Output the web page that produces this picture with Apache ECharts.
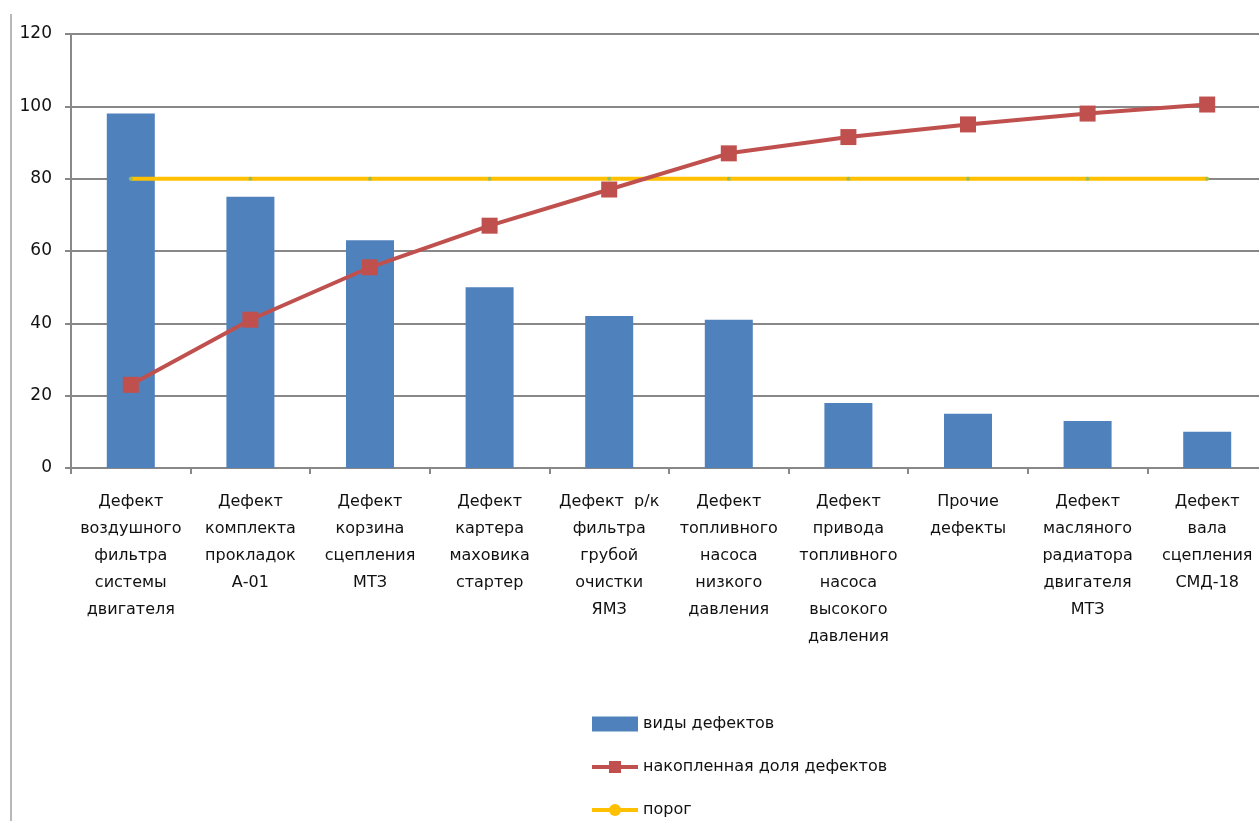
<!DOCTYPE html>
<html>
<head>
<meta charset="utf-8">
<script src="https://cdn.jsdelivr.net/npm/echarts@6/dist/echarts.min.js"></script>
<style>
  html, body { margin: 0; padding: 0; background: #fff; overflow: hidden; }
  #chart { width: 1268px; height: 821px; }
  #frame { position: absolute; left: 10px; top: 14px; width: 2px; height: 807px; background: #b8b8b8; }
</style>
</head>
<body>
<div id="chart"></div>
<div id="frame"></div>
<script>
const categories = [
  'Дефект\nвоздушного\nфильтра\nсистемы\nдвигателя',
  'Дефект\nкомплекта\nпрокладок\nА-01',
  'Дефект\nкорзина\nсцепления\nМТЗ',
  'Дефект\nкартера\nмаховика\nстартер',
  'Дефект  р/к\nфильтра\nгрубой\nочистки\nЯМЗ',
  'Дефект\nтопливного\nнасоса\nнизкого\nдавления',
  'Дефект\nпривода\nтопливного\nнасоса\nвысокого\nдавления',
  'Прочие\nдефекты',
  'Дефект\nмасляного\nрадиатора\nдвигателя\nМТЗ',
  'Дефект\nвала\nсцепления\nСМД-18'
];
const defectCounts = [98, 75, 63, 50, 42, 41, 18, 15, 13, 10];
const cumulativeShare = [23, 41, 55.5, 67, 77, 87, 91.5, 95, 98, 100.5];
const threshold = [80, 80, 80, 80, 80, 80, 80, 80, 80, 80];
const yTicks = [0, 20, 40, 60, 80, 100, 120];

const font = 'DejaVu Sans';
const chart = echarts.init(document.getElementById('chart'));
chart.setOption({
  animation: false,
  textStyle: { fontFamily: font },
  grid: { left: 71, top: 34, width: 1196, height: 434, containLabel: false },
  legend: {
    orient: 'vertical',
    left: 590,
    top: 716,
    height: 105,
    padding: 0,
    itemGap: 27,
    itemWidth: 46,
    itemHeight: 15,
    textStyle: { fontFamily: font, fontSize: 16, color: '#111' },
    data: [
      { name: 'виды дефектов', icon: 'rect', itemStyle: { color: '#4f81bd' } },
      { name: 'накопленная доля дефектов', lineStyle: { width: 4 } },
      { name: 'порог', lineStyle: { width: 4 }, itemStyle: { color: '#ffc000' } }
    ]
  },
  xAxis: {
    type: 'category',
    data: categories,
    boundaryGap: true,
    axisLine: { lineStyle: { color: '#888', width: 2 } },
    axisTick: { show: true, length: 6, alignWithLabel: false, lineStyle: { color: '#888', width: 2 } },
    axisLabel: { interval: 0, margin: 20, fontSize: 16, lineHeight: 27, color: '#111', fontFamily: font }
  },
  yAxis: {
    type: 'value',
    min: yTicks[0],
    max: yTicks[yTicks.length - 1],
    interval: 20,
    axisLine: { show: true, lineStyle: { color: '#888', width: 2 } },
    axisTick: { show: true, length: 6, lineStyle: { color: '#888', width: 2 } },
    axisLabel: { margin: 19, fontSize: 17, color: '#111', fontFamily: font },
    splitLine: { lineStyle: { color: '#888', width: 2 } }
  },
  series: [
    {
      name: 'виды дефектов',
      type: 'bar',
      data: defectCounts,
      barWidth: 48,
      itemStyle: { color: '#4f81bd' }
    },
    {
      name: 'накопленная доля дефектов',
      type: 'line',
      data: cumulativeShare,
      symbol: 'rect',
      symbolSize: 16,
      lineStyle: { color: '#c0504d', width: 4 },
      itemStyle: { color: '#c0504d' },
      z: 4
    },
    {
      name: 'порог',
      type: 'line',
      data: threshold,
      symbol: 'circle',
      symbolSize: 4,
      lineStyle: { color: '#ffc000', width: 4 },
      itemStyle: { color: '#9bbb59' },
      z: 3
    }
  ]
});
</script>
</body>
</html>
